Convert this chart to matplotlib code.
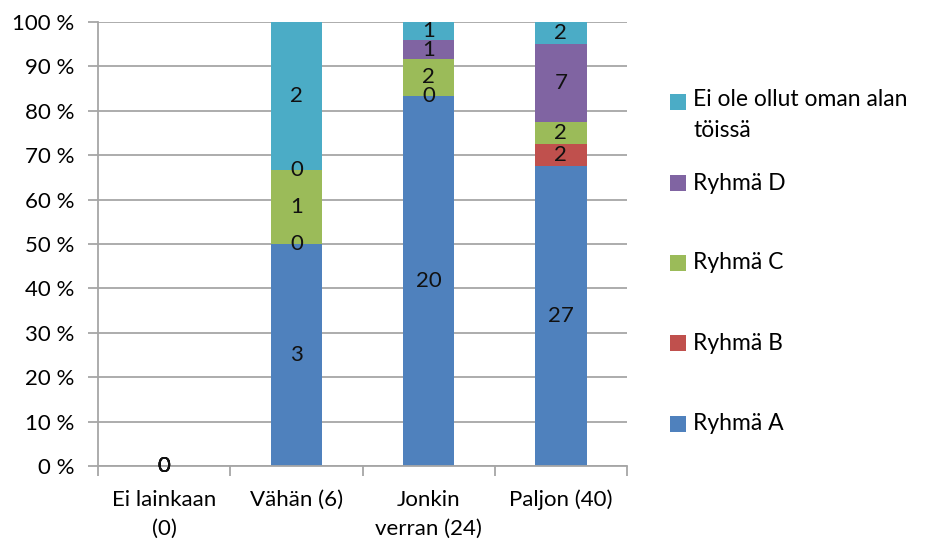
import numpy as np
import matplotlib
matplotlib.use("Agg")
import matplotlib.pyplot as plt
from matplotlib.patches import Rectangle
from matplotlib.ticker import FuncFormatter

categories = ["Ei lainkaan\n(0)", "Vähän (6)", "Jonkin\nverran (24)", "Paljon (40)"]
series_names = ["Ryhmä A", "Ryhmä B", "Ryhmä C", "Ryhmä D", "Ei ole ollut oman alan\ntöissä"]
ryhma_a = [0, 3, 20, 27]
ryhma_b = [0, 0, 0, 2]
ryhma_c = [0, 1, 2, 2]
ryhma_d = [0, 0, 1, 7]
ei_ole = [0, 2, 1, 2]
colors = ["#4F81BD", "#C0504D", "#9BBB59", "#8064A2", "#4BACC6"]

plt.rcParams["font.family"] = ["Lato", "DejaVu Sans"]
FS = 16

counts = np.array([ryhma_a, ryhma_b, ryhma_c, ryhma_d, ei_ole], dtype=float)
totals = counts.sum(axis=0)
safe = np.where(totals == 0, 1, totals)
shares = counts / safe * 100

W, H = 930, 547
fig = plt.figure(figsize=(W / 100, H / 100), dpi=100)
ax = fig.add_axes([98 / W, 1 - 466 / H, (627 - 98) / W, (466 - 22) / H])

x = np.arange(len(categories))
bottom = np.zeros(len(categories))
for vals, share, col in zip(counts, shares, colors):
    ax.bar(x, share, 0.39, bottom=bottom, color=col, zorder=2)
    for xi, v, s, b in zip(x, vals, share, bottom):
        ax.text(xi, b + s / 2, f"{int(v)}", ha="center", va="center",
                fontsize=FS, color="#111111", zorder=3)
    bottom += share

ax.set_xlim(-0.5, len(categories) - 0.5)
ax.set_ylim(0, 100)
ax.set_yticks(np.arange(0, 101, 10))
ax.yaxis.set_major_formatter(FuncFormatter(lambda v, p: f"{int(v)} %"))
ax.grid(axis="y", color="#A6A6A6", linewidth=1.3, zorder=0)
ax.tick_params(axis="y", length=7, width=1.3, color="#A6A6A6", labelsize=FS, pad=10)

ax.set_xticks(np.arange(-0.5, len(categories)), minor=False)
ax.set_xticklabels([])
ax.set_xticks(x, minor=True)
ax.set_xticklabels(categories, minor=True, fontsize=FS, linespacing=1.6)
ax.tick_params(axis="x", which="major", length=7, width=1.3, color="#A6A6A6")
ax.tick_params(axis="x", which="minor", length=0, pad=17)

for side in ["top", "right"]:
    ax.spines[side].set_visible(False)
for side in ["left", "bottom"]:
    ax.spines[side].set_color("#A6A6A6")
    ax.spines[side].set_linewidth(1.3)
ax.set_axisbelow(True)

# Legend drawn on the right, last series on top
legend_y = [424, 343, 263, 183, 102]
for name, col, ly in zip(series_names, colors, legend_y):
    fig.patches.append(Rectangle((670 / W, 1 - (ly + 8) / H), 16 / W, 16 / H,
                                 transform=fig.transFigure, facecolor=col,
                                 edgecolor="none"))
    if "\n" in name:
        fig.text(693 / W, 1 - (ly - 13) / H, name, ha="left", va="top",
                 fontsize=FS + 0.5, linespacing=1.6)
    else:
        fig.text(693 / W, 1 - ly / H, name, ha="left", va="center", fontsize=FS + 0.5)

fig.savefig("out.png", dpi=100)
